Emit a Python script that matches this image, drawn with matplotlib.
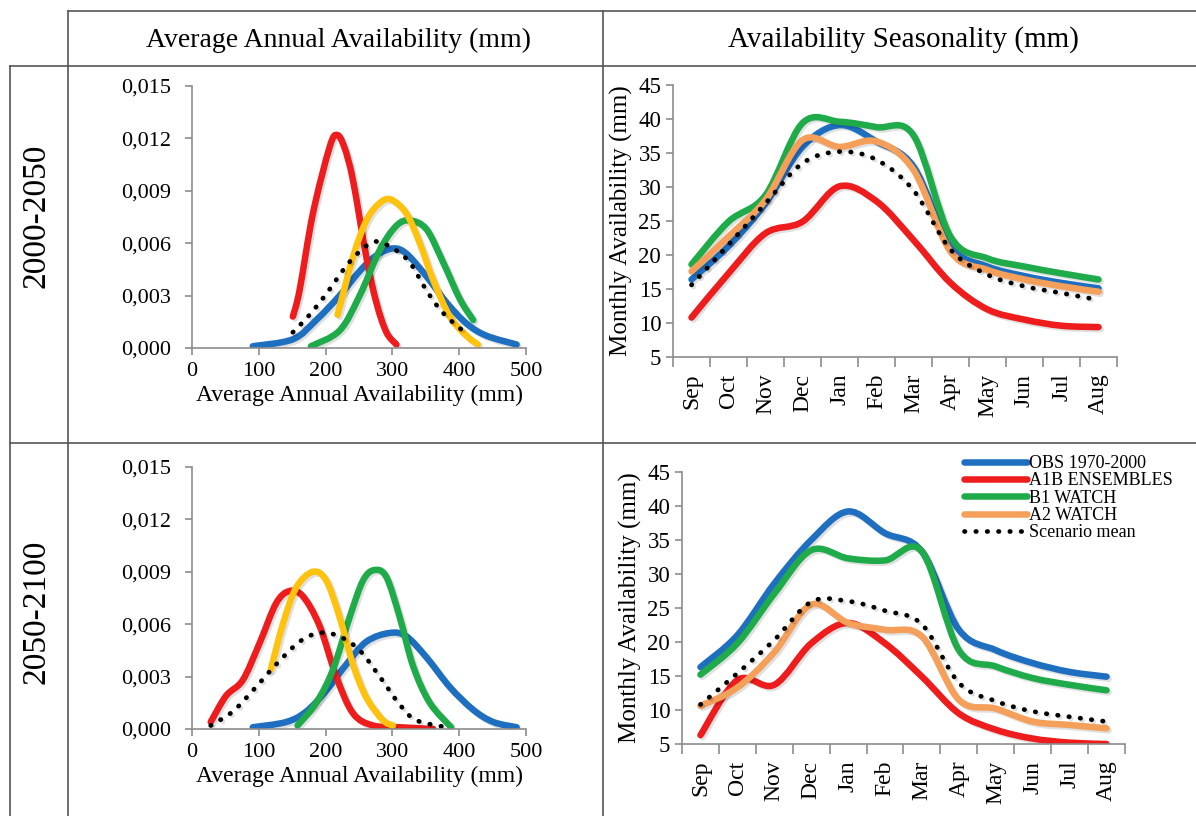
import numpy as np
import matplotlib
matplotlib.use("Agg")
import matplotlib.pyplot as plt
from matplotlib.lines import Line2D
from matplotlib.path import Path
from matplotlib.patches import PathPatch
import matplotlib.patheffects as pe

plt.rcParams['font.family'] = ['Liberation Serif', 'DejaVu Serif']

# month labels of the hydrological year
months = ['Sep', 'Oct', 'Nov', 'Dec', 'Jan', 'Feb', 'Mar', 'Apr', 'May', 'Jun', 'Jul', 'Aug']

# monthly availability 2000-2050 (mm)
obs_2050 = [16.4, 21.3, 27.6, 35.9, 39.1, 36.7, 33.0, 21.3, 18.3, 16.9, 15.9, 15.1]
a1b_2050 = [10.8, 17.3, 23.2, 24.9, 30.1, 27.9, 22.2, 15.9, 12.0, 10.5, 9.6, 9.4]
b1_2050 = [18.6, 24.9, 28.8, 39.4, 39.6, 38.8, 37.6, 22.7, 19.5, 18.3, 17.3, 16.4]
a2_2050 = [17.6, 22.7, 28.1, 36.9, 35.9, 36.7, 32.5, 20.5, 17.8, 16.4, 15.4, 14.6]
mean_2050 = [15.6, 21.5, 27.6, 33.5, 35.2, 34.0, 29.5, 20.8, 17.1, 15.4, 14.4, 13.4]

# monthly availability 2050-2100 (mm)
obs_2100 = [16.3, 21.0, 28.6, 35.0, 39.2, 36.0, 33.3, 21.8, 18.8, 16.9, 15.6, 14.9]
a1b_2100 = [6.3, 14.4, 13.7, 19.8, 22.8, 19.8, 14.9, 9.5, 7.1, 5.8, 5.2, 5.0]
b1_2100 = [15.2, 19.8, 27.1, 33.5, 32.3, 32.0, 33.3, 18.8, 16.4, 14.7, 13.7, 12.9]
a2_2100 = [10.6, 13.3, 18.5, 25.5, 22.8, 21.8, 20.8, 11.5, 10.2, 8.3, 7.8, 7.3]
mean_2100 = [10.8, 15.4, 20.3, 25.9, 26.0, 24.6, 22.6, 14.0, 11.3, 9.8, 9.0, 8.3]

# density of average annual availability 2000-2050 (x in mm, y density)
obs_pdf_x_2050 = [91, 151, 186, 221, 251, 276, 301, 321, 351, 381, 411, 441, 486]
obs_pdf_y_2050 = [0.0001, 0.0005, 0.0016, 0.0030, 0.0044, 0.0053, 0.0057, 0.0054, 0.0041, 0.0026, 0.0014, 0.0007, 0.0002]
a1b_pdf_x_2050 = [151, 161, 181, 206, 217, 228, 241, 261, 276, 291, 306]
a1b_pdf_y_2050 = [0.0018, 0.0033, 0.0077, 0.0115, 0.0122, 0.0115, 0.0096, 0.0052, 0.0026, 0.0009, 0.0002]
b1_pdf_x_2050 = [178, 221, 251, 281, 306, 326, 351, 376, 401, 421]
b1_pdf_y_2050 = [0.0001, 0.0010, 0.0030, 0.0056, 0.0070, 0.0073, 0.0068, 0.0049, 0.0028, 0.0016]
a2_pdf_x_2050 = [218, 241, 261, 281, 298, 321, 341, 361, 386, 411, 428]
a2_pdf_y_2050 = [0.0019, 0.0052, 0.0073, 0.0083, 0.0085, 0.0077, 0.0060, 0.0039, 0.0018, 0.0007, 0.0002]
mean_pdf_x_2050 = [151, 176, 201, 231, 256, 276, 301, 326, 351, 376, 411]
mean_pdf_y_2050 = [0.0009, 0.0019, 0.0031, 0.0047, 0.0057, 0.0061, 0.0057, 0.0049, 0.0033, 0.0020, 0.0008]

# density of average annual availability 2050-2100
obs_pdf_x_2100 = [91, 141, 171, 201, 231, 261, 296, 321, 351, 386, 421, 451, 486]
obs_pdf_y_2100 = [0.0001, 0.0004, 0.0010, 0.0022, 0.0037, 0.0050, 0.0055, 0.0053, 0.0041, 0.0024, 0.0011, 0.0004, 0.0001]
a1b_pdf_x_2100 = [28, 51, 76, 101, 126, 146, 166, 191, 216, 241, 271, 311, 361]
a1b_pdf_y_2100 = [0.0004, 0.0019, 0.0028, 0.0049, 0.0072, 0.0079, 0.0076, 0.0059, 0.0030, 0.0009, 0.0002, 0.0001, 0.0000]
b1_pdf_x_2100 = [158, 186, 211, 236, 256, 273, 291, 311, 331, 356, 388]
b1_pdf_y_2100 = [0.0002, 0.0015, 0.0034, 0.0064, 0.0085, 0.0091, 0.0087, 0.0064, 0.0036, 0.0015, 0.0001]
a2_pdf_x_2100 = [118, 136, 156, 181, 201, 221, 241, 261, 286, 301]
a2_pdf_y_2100 = [0.0034, 0.0060, 0.0081, 0.0090, 0.0085, 0.0064, 0.0037, 0.0018, 0.0005, 0.0002]
mean_pdf_x_2100 = [28, 61, 91, 126, 161, 191, 221, 251, 281, 311, 336, 381]
mean_pdf_y_2100 = [0.0002, 0.0010, 0.0022, 0.0037, 0.0050, 0.0055, 0.0053, 0.0045, 0.0030, 0.0014, 0.0005, 0.0001]

series_names = ['OBS 1970-2000', 'A1B ENSEMBLES', 'B1 WATCH', 'A2 WATCH', 'Scenario mean']

BLUE = '#1f6fc0'
RED = '#ee1c1c'
GREEN = '#1fab4a'
YELLOW = '#ffc20e'
ORANGE = '#f5a05a'
LW = 4.7
DOT = (0, (0.1, 2.3))

W, H = 1196, 816
fig = plt.figure(figsize=(W / 100, H / 100), dpi=100)
shadow = [pe.SimpleLineShadow(offset=(1.5, -1.5), alpha=0.12), pe.Normal()]


def px_axes(x0, y0, x1, y1):
    # axes from pixel box (top-left origin)
    return fig.add_axes([x0 / W, 1 - y1 / H, (x1 - x0) / W, (y1 - y0) / H])


def fig_line(x0, y0, x1, y1):
    fig.add_artist(Line2D([x0 / W, x1 / W], [1 - y0 / H, 1 - y1 / H],
                          color='#555555', lw=1.2, transform=fig.transFigure))


def smooth_line(ax, x, y, **kw):
    # excel-like smoothed line: bezier segments through the data points
    p = np.column_stack([x, y]).astype(float)
    ext = np.vstack([p[0], p, p[-1]])
    verts = [p[0]]
    codes = [Path.MOVETO]
    for i in range(len(p) - 1):
        c1 = ext[i + 1] + (ext[i + 2] - ext[i]) / 6
        c2 = ext[i + 2] - (ext[i + 3] - ext[i + 1]) / 6
        verts += [c1, c2, p[i + 1]]
        codes += [Path.CURVE4] * 3
    patch = PathPatch(Path(verts, codes), fill=False, capstyle='round', joinstyle='round', **kw)
    patch.set_path_effects(shadow)
    ax.add_patch(patch)


def style_axes(ax, size):
    for s in ['top', 'right']:
        ax.spines[s].set_visible(False)
    for s in ['left', 'bottom']:
        ax.spines[s].set_color('#8c8c8c')
        ax.spines[s].set_linewidth(1.2)
    ax.tick_params(colors='#8c8c8c', labelcolor='black', labelsize=size, width=1.2, length=5)


def density_panel(ax, data):
    colors = [BLUE, RED, GREEN, YELLOW]
    for (x, y), c in zip(data[:4], colors):
        smooth_line(ax, x, y, edgecolor=c, lw=LW)
    smooth_line(ax, data[4][0], data[4][1], edgecolor='black', lw=3.4, linestyle=DOT)
    ax.set_xlim(0, 500)
    ax.set_ylim(0, 0.015)
    ax.set_xticks(np.arange(0, 501, 100))
    yt = np.arange(0, 0.0151, 0.003)
    ax.set_yticks(yt)
    ax.set_yticklabels(['{:.3f}'.format(v).replace('.', ',') for v in yt])
    style_axes(ax, 16)
    ax.tick_params(axis='x', pad=5)
    ax.tick_params(axis='y', pad=10)
    ax.set_xlabel('Average Annual Availability (mm)', fontsize=17, labelpad=3)


def season_panel(ax, data):
    x = np.arange(len(months))
    colors = [BLUE, RED, GREEN, ORANGE]
    for y, c in zip(data[:4], colors):
        smooth_line(ax, x, y, edgecolor=c, lw=LW)
    smooth_line(ax, x, data[4], edgecolor='black', lw=3.4, linestyle=DOT)
    ax.set_xlim(-0.5, len(months) - 0.5)
    ax.set_ylim(5, 45)
    ax.set_yticks(np.arange(5, 46, 5))
    ax.set_xticks(x)
    ax.set_xticklabels(months, rotation=90)
    ax.set_xticks(np.arange(-0.5, len(months)), minor=True)
    style_axes(ax, 16.5)
    ax.tick_params(axis='x', which='major', length=0, pad=12, labelsize=17)
    ax.tick_params(axis='x', which='minor', length=7, width=1.2, colors='#8c8c8c')
    ax.set_ylabel('Monthly Availability (mm)', fontsize=18, labelpad=4)


# table frame
fig_line(68, 11, W, 11)
fig_line(10, 66, W, 66)
fig_line(10, 443, W, 443)
fig_line(10, 66, 10, H)
fig_line(68, 11, 68, H)
fig_line(603, 11, 603, H)

fig.text(338 / W, 1 - 40 / H, 'Average Annual Availability (mm)', ha='center', va='center', fontsize=20)
fig.text(903 / W, 1 - 40 / H, 'Availability Seasonality (mm)', ha='center', va='center', fontsize=21)
fig.text(36 / W, 1 - 216 / H, '2000-2050', ha='center', va='center', rotation=90, fontsize=24)
fig.text(36 / W, 1 - 612 / H, '2050-2100', ha='center', va='center', rotation=90, fontsize=24)

ax1 = px_axes(192, 86, 526, 348)
density_panel(ax1, [(obs_pdf_x_2050, obs_pdf_y_2050), (a1b_pdf_x_2050, a1b_pdf_y_2050),
                    (b1_pdf_x_2050, b1_pdf_y_2050), (a2_pdf_x_2050, a2_pdf_y_2050),
                    (mean_pdf_x_2050, mean_pdf_y_2050)])

ax2 = px_axes(673, 85, 1117, 357)
season_panel(ax2, [obs_2050, a1b_2050, b1_2050, a2_2050, mean_2050])

ax3 = px_axes(192, 467, 526, 729)
density_panel(ax3, [(obs_pdf_x_2100, obs_pdf_y_2100), (a1b_pdf_x_2100, a1b_pdf_y_2100),
                    (b1_pdf_x_2100, b1_pdf_y_2100), (a2_pdf_x_2100, a2_pdf_y_2100),
                    (mean_pdf_x_2100, mean_pdf_y_2100)])

ax4 = px_axes(682, 472, 1125, 744)
season_panel(ax4, [obs_2100, a1b_2100, b1_2100, a2_2100, mean_2100])

# legend handles for the smoothed lines
handles = [Line2D([], [], color=c, lw=LW, solid_capstyle='round') for c in [BLUE, RED, GREEN, ORANGE]]
handles.append(Line2D([], [], color='black', lw=3.4, ls=DOT, dash_capstyle='round'))
ax4.legend(handles, series_names, loc='upper left', bbox_to_anchor=(964 / W, 1 - 455 / H),
           bbox_transform=fig.transFigure, frameon=False, fontsize=13, handlelength=3.5,
           handletextpad=0.1, labelspacing=0.02, borderaxespad=0, borderpad=0)

fig.savefig('out.png', dpi=100)
